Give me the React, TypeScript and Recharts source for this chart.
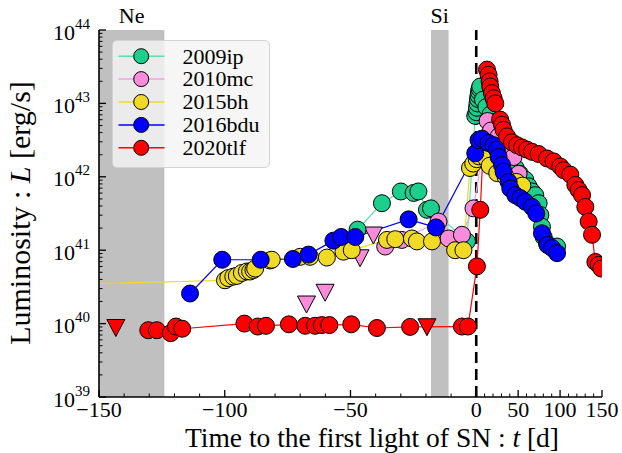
import React from 'react';
import {
  ComposedChart,
  Line,
  Scatter,
  XAxis,
  YAxis,
  ReferenceArea,
  ReferenceLine,
  Legend,
} from 'recharts';

const FONT = '"Liberation Serif", "Times New Roman", Times, serif';

// ---------- data (days since first light, log10 L [erg/s]) ----------
// SN 2009ip
const ip09Days = [-47.2, -37.5, -30.0, -24.9, -23.0, -19.6, -18.0, -3.7, -0.4, 0.3, 0.9, 1.5, 2.1, 2.7, 3.3, 4.0, 4.8, 8, 12, 17, 22, 28, 34, 39, 42.6, 47, 52, 58.5, 62.4, 66.5, 70.4, 74.4, 76.4, 78.4, 80.4, 84.4, 96.4];
const ip09LogL = [41.28, 41.64, 41.8, 41.78, 41.8, 41.55, 41.57, 41.12, 42.83, 42.88, 42.94, 43.0, 43.06, 43.11, 43.16, 43.2, 43.23, 43.05, 42.95, 42.85, 42.75, 42.6, 42.45, 42.3, 42.21, 42.12, 42.04, 41.96, 41.87, 41.8, 41.75, 41.64, 41.48, 41.32, 41.18, 41.09, 41.05];

// SN 2010mc
const mc10Days = [-36.2, -29.6, -15.0, -11.0, -5.7, -1.1, 13.5, 17.5, 26.6, 34.6, 44.5, 50.5];
const mc10LogL = [41.05, 41.14, 41.39, 41.16, 41.21, 41.57, 42.76, 42.63, 42.55, 42.43, 42.27, 42.04];
const mc10LimDays = [-67.5, -60.1, -46.2, -40.9];
const mc10LimLogL = [40.26, 40.42, 40.89, 41.2];

// SN 2015bh
const bh15Days = [-400, -99.9, -98.6, -96.6, -95.2, -93.2, -91.2, -89.9, -88.6, -87.9, -82.0, -81.3, -70.0, -66.1, -59.4, -52.8, -49.5, -35.5, -32.2, -25.6, -23.6, -17.6, -8.4, -5.1, -2.5, -1.2, 0.5, 3, 12, 16, 25, 35, 48, 55];
const bh15LogL = [40.33, 40.59, 40.62, 40.64, 40.65, 40.69, 40.71, 40.71, 40.73, 40.75, 40.86, 40.87, 40.91, 40.91, 40.9, 40.98, 41.0, 41.14, 41.15, 41.16, 41.12, 41.12, 41.0, 41.0, 42.12, 42.18, 42.24, 42.28, 42.25, 42.15, 42.05, 42.0, 41.93, 41.88];

// SN 2016bdu
const bdu16Days = [-113.8, -101.0, -85.7, -72.9, -66.7, -56.8, -53.7, -48.1, -26.9, -16.0, -0.4, 2.7, 6.8, 14.7, 20.7, 24.7, 26.6, 30.7, 32.6, 38.6, 40.6, 46.6, 52.5, 58.5, 66.5, 71.6, 78.4, 85.1, 90.4, 96.4];
const bdu16LogL = [40.41, 40.87, 40.87, 40.88, 40.94, 41.13, 41.18, 41.18, 41.42, 41.31, 42.32, 42.5, 42.52, 42.46, 42.43, 42.37, 42.27, 42.16, 42.07, 41.93, 41.84, 41.75, 41.71, 41.66, 41.59, 41.5, 41.23, 41.07, 41.03, 40.96];

// SN 2020tlf
const tlf20Days = [-130.4, -127.0, -121.5, -119.4, -116.9, -92.2, -86.9, -83.6, -74.5, -68.0, -64.1, -61.4, -58.4, -49.7, -39.5, -26.3, -5.7, -3.3, 0.8, 4.8, 12.8, 14.7, 15.9, 16.7, 18.7, 20.7, 22.7, 28.5, 30.7, 32.6, 36.7, 42.6, 48.6, 54.6, 60.5, 66.5, 74.4, 84.4, 92.3, 100.3, 104.2, 112.2, 118.2, 122.1, 126.2, 130.1, 134.1, 138.1, 142.1, 146.0, 149.3];
const tlf20LogL = [39.91, 39.91, 39.87, 39.96, 39.93, 40.0, 39.96, 39.97, 39.99, 39.97, 39.97, 39.98, 39.98, 39.99, 39.94, 39.955, 39.96, 39.96, 40.78, 41.55, 43.46, 43.39, 43.3, 43.23, 43.14, 43.07, 43.0, 42.78, 42.71, 42.64, 42.55, 42.47, 42.43, 42.4, 42.37, 42.34, 42.31, 42.25, 42.21, 42.14, 42.09, 42.03, 41.89, 41.82, 41.75, 41.59, 41.39, 41.21, 40.84, 40.8, 40.75];
const tlf20LimDays = [-143.3, -19.6];
const tlf20LimLogL = [39.94, 39.95];

// legend / colours
const seriesNames = ['2009ip', '2010mc', '2015bh', '2016bdu', '2020tlf'];
const markerColors = ['#1ccf8c', '#f98bdb', '#f0da26', '#0000ff', '#ff0000'];
const lineColors = ['#5fdcb0', '#f5a3de', '#f0da26', '#0000ff', '#ff0000'];

// axes
const xMajorDays = [-150, -100, -50, 0, 50, 100, 150];
const xMinorDays = [-140, -130, -120, -110, -90, -80, -70, -60, -40, -30, -20, -10, 10, 20, 30, 40, 60, 70, 80, 90, 110, 120, 130, 140];
const yMajorExp = [39, 40, 41, 42, 43, 44];
const yMinorMult = [2, 3, 4, 5, 6, 7, 8, 9];

// shaded bands (days)
const neBand = [-150, -124];
const siBand = [-18, -11];

// ---------- helpers ----------
const PLOT = { left: 99, right: 602, top: 30, bottom: 397 };
// piecewise time axis: after first light, compressed 3x
const toU = (d: number) => (d < 0 ? d : d / 3);
const build = (days: number[], logL: number[]) =>
  days.map((d, i) => ({ u: toU(d), L: Math.pow(10, logL[i]) }));

const ip09 = build(ip09Days, ip09LogL);
const mc10 = build(mc10Days, mc10LogL);
const mc10Lim = build(mc10LimDays, mc10LimLogL);
const bh15 = build(bh15Days, bh15LogL);
const bdu16 = build(bdu16Days, bdu16LogL);
const tlf20 = build(tlf20Days, tlf20LogL);
const tlf20Lim = build(tlf20LimDays, tlf20LimLogL);
const circleSeries = [ip09, mc10, bh15, bdu16, tlf20];

const xTicks = [...xMajorDays, ...xMinorDays].map(toU).sort((a, b) => a - b);
const findMajorDay = (u: number) => xMajorDays.find((d) => Math.abs(toU(d) - u) < 1e-6);
const fmtDay = (d: number) => (d < 0 ? '\u2212' + Math.abs(d) : String(d));

const yTicks: number[] = [];
yMajorExp.forEach((e) => yTicks.push(Math.pow(10, e)));
yMajorExp.slice(0, -1).forEach((e) => yMinorMult.forEach((m) => yTicks.push(m * Math.pow(10, e))));
yTicks.sort((a, b) => a - b);
const yMajorOf = (v: number) => {
  const l = Math.log10(v);
  const r = Math.round(l);
  return Math.abs(l - r) < 1e-6 ? r : null;
};

const BottomTick = (props: any) => {
  const { x, payload } = props;
  const d = findMajorDay(payload.value);
  const major = d !== undefined;
  return (
    <g>
      <line x1={x} x2={x} y1={PLOT.bottom} y2={PLOT.bottom - (major ? 7 : 3.5)} stroke="#000" strokeWidth={major ? 1.3 : 1} />
      {major && (
        <text x={x} y={417} textAnchor="middle" fontSize={22} fontFamily={FONT} fill="#000">
          {fmtDay(d as number)}
        </text>
      )}
    </g>
  );
};

const TopTick = (props: any) => {
  const { x, payload } = props;
  const major = findMajorDay(payload.value) !== undefined;
  return <line x1={x} x2={x} y1={PLOT.top} y2={PLOT.top + (major ? 7 : 3.5)} stroke="#000" strokeWidth={major ? 1.3 : 1} />;
};

const LeftTick = (props: any) => {
  const { y, payload } = props;
  const e = yMajorOf(payload.value);
  const major = e !== null;
  return (
    <g>
      <line x1={PLOT.left} x2={PLOT.left + (major ? 7 : 3.5)} y1={y} y2={y} stroke="#000" strokeWidth={major ? 1.3 : 1} />
      {major && (
        <text x={90} y={y + 9.5} textAnchor="end" fontSize={22} fontFamily={FONT} fill="#000">
          10
          <tspan dy={-11} fontSize={15}>
            {e}
          </tspan>
        </text>
      )}
    </g>
  );
};

const RightTick = (props: any) => {
  const { y, payload } = props;
  const major = yMajorOf(payload.value) !== null;
  return <line x1={PLOT.right} x2={PLOT.right - (major ? 7 : 3.5)} y1={y} y2={y} stroke="#000" strokeWidth={major ? 1.3 : 1} />;
};

const makeDot = (fill: string) => (p: any) => (
  <circle key={`d-${p.index}`} cx={p.cx} cy={p.cy} r={8.5} fill={fill} stroke="#000" strokeWidth={1} />
);

const makeTri = (fill: string) => (p: any) => {
  const { cx, cy } = p;
  return (
    <path
      d={`M${cx - 9},${cy - 8.5} L${cx + 9},${cy - 8.5} L${cx},${cy + 8.5} Z`}
      fill={fill}
      stroke="#000"
      strokeWidth={1}
      strokeLinejoin="miter"
    />
  );
};

const LegendBox = () => (
  <div
    style={{
      width: 158,
      height: 128,
      boxSizing: 'border-box',
      background: 'rgba(244,244,244,0.82)',
      border: '1.5px solid #d3d3d3',
      borderRadius: 5,
    }}
  >
    <svg width={155} height={125} style={{ display: 'block' }}>
      {seriesNames.map((n, i) => {
        const cy = 15.2 + i * 22.9;
        return (
          <g key={n}>
            <line x1={5.5} x2={51.5} y1={cy} y2={cy} stroke={lineColors[i]} strokeWidth={1.5} />
            <circle cx={28.2} cy={cy} r={7.5} fill={markerColors[i]} stroke="#000" strokeWidth={1} />
            <text x={69.5} y={cy + 7.3} fontSize={22} fontFamily={FONT} fill="#000">
              {n}
            </text>
          </g>
        );
      })}
    </svg>
  </div>
);

const XLabel = () => (
  <text x={372} y={446.8} textAnchor="middle" fontSize={27.5} fontFamily={FONT} fill="#000">
    Time to the first light of SN : <tspan fontStyle="italic">t</tspan> [d]
  </text>
);

const YLabel = () => (
  <text transform="translate(30,213) rotate(-90)" textAnchor="middle" fontSize={30} fontFamily={FONT} fill="#000">
    Luminosity : <tspan fontStyle="italic">L</tspan> [erg/s]
  </text>
);

export default function App() {
  return (
    <div style={{ position: 'absolute', left: 0, top: 0, width: 622, height: 453, background: '#fff' }}>
      <ComposedChart width={622} height={453} margin={{ top: 30, right: 20, bottom: 26, left: 39 }}>
        <XAxis
          dataKey="u"
          type="number"
          domain={[-150, 50]}
          allowDataOverflow
          ticks={xTicks}
          interval={0}
          tick={BottomTick}
          tickLine={false}
          axisLine={{ stroke: '#000', strokeWidth: 1.6 }}
          height={30}
          label={XLabel}
        />
        <XAxis
          xAxisId="t"
          dataKey="u"
          type="number"
          orientation="top"
          domain={[-150, 50]}
          allowDataOverflow
          ticks={xTicks}
          interval={0}
          tick={TopTick}
          tickLine={false}
          axisLine={{ stroke: '#000', strokeWidth: 1.6 }}
          height={0}
        />
        <YAxis
          dataKey="L"
          type="number"
          scale="log"
          domain={[1e39, 1e44]}
          allowDataOverflow
          ticks={yTicks}
          interval={0}
          tick={LeftTick}
          tickLine={false}
          axisLine={{ stroke: '#000', strokeWidth: 1.6 }}
          width={60}
          label={YLabel}
        />
        <YAxis
          yAxisId="r"
          dataKey="L"
          type="number"
          orientation="right"
          scale="log"
          domain={[1e39, 1e44]}
          allowDataOverflow
          ticks={yTicks}
          interval={0}
          tick={RightTick}
          tickLine={false}
          axisLine={{ stroke: '#000', strokeWidth: 1.6 }}
          width={0}
        />
        <ReferenceArea
          x1={toU(neBand[0])}
          x2={toU(neBand[1])}
          y1={1e39}
          y2={1e44}
          fill="#c0c0c0"
          fillOpacity={1}
          stroke="none"
          label={{ value: 'Ne', position: 'top', offset: 7, fontSize: 22, fontFamily: FONT, fill: '#000' }}
        />
        <ReferenceArea
          x1={toU(siBand[0])}
          x2={toU(siBand[1])}
          y1={1e39}
          y2={1e44}
          fill="#c0c0c0"
          fillOpacity={1}
          stroke="none"
          label={{ value: 'Si', position: 'top', offset: 7, fontSize: 22, fontFamily: FONT, fill: '#000' }}
        />
        <ReferenceLine x={0} stroke="#000" strokeWidth={2.6} strokeDasharray="11 6" />
        {circleSeries.map((data, i) => (
          <Line
            key={seriesNames[i]}
            name={seriesNames[i]}
            data={data}
            dataKey="L"
            stroke={lineColors[i]}
            strokeWidth={1.2}
            dot={makeDot(markerColors[i])}
            activeDot={false}
            isAnimationActive={false}
            legendType="none"
          />
        ))}
        <Scatter data={mc10Lim} dataKey="L" shape={makeTri(markerColors[1])} isAnimationActive={false} legendType="none" />
        <Scatter data={tlf20Lim} dataKey="L" shape={makeTri(markerColors[4])} isAnimationActive={false} legendType="none" />
        <Legend
          layout="horizontal"
          verticalAlign="middle"
          align="center"
          content={LegendBox}
          wrapperStyle={{ left: 112, top: 40, width: 158, height: 128 }}
        />
      </ComposedChart>
    </div>
  );
}
